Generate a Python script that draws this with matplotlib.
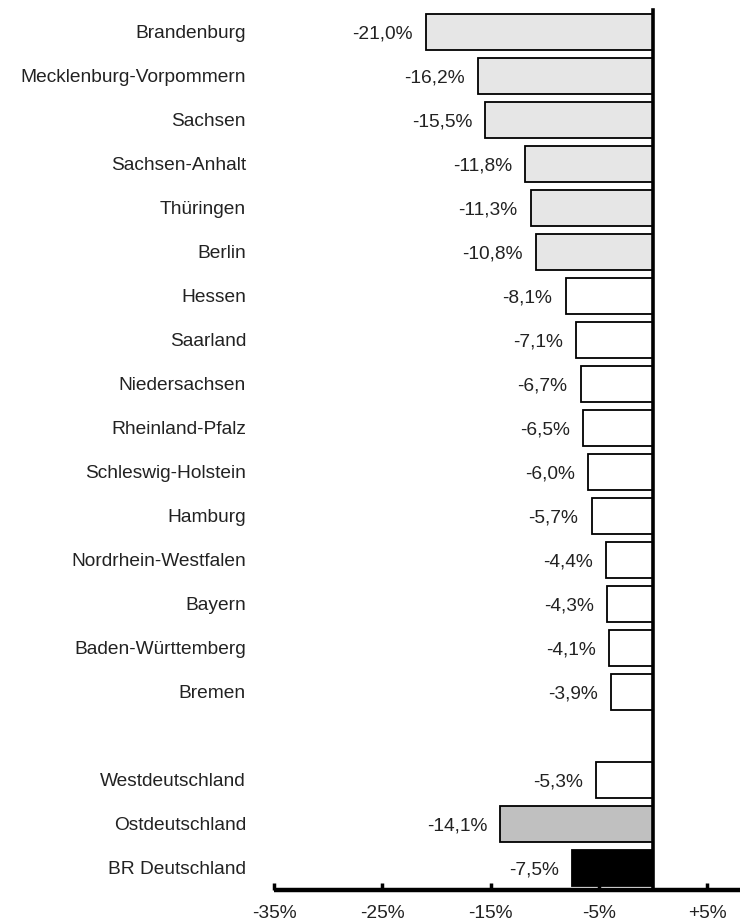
import matplotlib.pyplot as plt
import matplotlib.transforms as mtransforms

plt.rcParams["font.family"] = ["Liberation Sans", "DejaVu Sans"]

# Veränderung je Land, in Prozent
laender = [
    "Brandenburg", "Mecklenburg-Vorpommern", "Sachsen", "Sachsen-Anhalt",
    "Thüringen", "Berlin", "Hessen", "Saarland", "Niedersachsen",
    "Rheinland-Pfalz", "Schleswig-Holstein", "Hamburg",
    "Nordrhein-Westfalen", "Bayern", "Baden-Württemberg", "Bremen",
]
werte_laender = [-21.0, -16.2, -15.5, -11.8, -11.3, -10.8, -8.1, -7.1, -6.7,
                 -6.5, -6.0, -5.7, -4.4, -4.3, -4.1, -3.9]
gruppe_laender = ["ost"] * 6 + ["west"] * 10

gebiete = ["Westdeutschland", "Ostdeutschland", "BR Deutschland"]
werte_gebiete = [-5.3, -14.1, -7.5]
gruppe_gebiete = ["west", "ost_gesamt", "gesamt"]

xticks = [-35, -25, -15, -5, 5]
xticklabels = ["-35%", "-25%", "-15%", "-5%", "+5%"]

farben = {"ost": "#e6e6e6", "west": "white", "ost_gesamt": "#c0c0c0", "gesamt": "black"}
textfarbe = "#222222"
fs = 13.8

# one empty row between the states and the totals
namen = laender + gebiete
werte = werte_laender + werte_gebiete
gruppen = gruppe_laender + gruppe_gebiete
pos = list(range(len(laender))) + [len(laender) + 1 + i for i in range(len(gebiete))]

fig = plt.figure(figsize=(7.4, 9.22), dpi=100)
ax = fig.add_axes([274 / 740, 32 / 922, 1 - 274 / 740, 880 / 922])

ax.barh(pos, werte, height=0.8, color=[farben[g] for g in gruppen],
        edgecolor="black", linewidth=1.3, zorder=2)

for p, v in zip(pos, werte):
    ax.annotate(f"{v:.1f}%".replace(".", ","), (v, p), xytext=(-9.5, -1.5),
                textcoords="offset points", ha="right", va="center",
                fontsize=fs, color=textfarbe)

# category names, right aligned left of the plot area
trans = mtransforms.blended_transform_factory(ax.transAxes, ax.transData) + \
    mtransforms.ScaledTranslation(-28 / 100, -1.5 / 100, fig.dpi_scale_trans)
for p, n in zip(pos, namen):
    ax.text(0, p, n, transform=trans, ha="right", va="center",
            fontsize=fs, color=textfarbe)

ax.set_xlim(-35, 8)
ax.set_ylim(pos[-1] + 0.5, -0.5)
ax.set_yticks([])

ax.set_xticks(xticks)
ax.set_xticklabels(xticklabels, fontsize=fs, color=textfarbe)
ax.tick_params(axis="x", direction="in", length=5, width=2.5, pad=11)

for s in ["top", "right"]:
    ax.spines[s].set_visible(False)
ax.spines["left"].set_position(("data", 0))
ax.spines["left"].set_linewidth(2.6)
ax.spines["left"].set_zorder(3)
ax.spines["bottom"].set_linewidth(3.2)
ax.spines["bottom"].set_zorder(3)
ax.spines["bottom"].set_capstyle("butt")

fig.savefig("out.png", dpi=100)
